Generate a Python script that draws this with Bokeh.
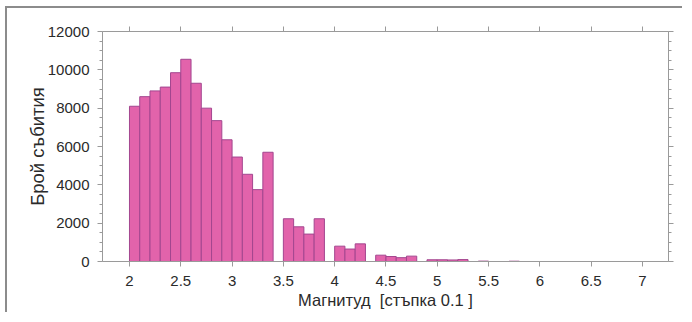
from bokeh.plotting import figure
from bokeh.models import (LinearAxis, SingleIntervalTicker, NumeralTickFormatter,
                          Range1d, ColumnDataSource)
from bokeh.embed import file_html
from bokeh.resources import INLINE

# Magnitude bins (left edges, step 0.1) and event counts
magnitudes = [2.0, 2.1, 2.2, 2.3, 2.4, 2.5, 2.6, 2.7, 2.8, 2.9,
              3.0, 3.1, 3.2, 3.3, 3.4, 3.5, 3.6, 3.7, 3.8, 3.9,
              4.0, 4.1, 4.2, 4.3, 4.4, 4.5, 4.6, 4.7, 4.8, 4.9,
              5.0, 5.1, 5.2, 5.3, 5.4, 5.5, 5.6, 5.7]
counts = [8100, 8600, 8900, 9100, 9850, 10550, 9300, 8000, 7350, 6350,
          5450, 4550, 3750, 5700, 0, 2230, 1810, 1430, 2230, 0,
          800, 650, 920, 0, 330, 260, 200, 280, 0, 90,
          90, 80, 100, 0, 20, 0, 0, 15]
bin_width = 0.1

x_label = "Магнитуд \u00a0[стъпка 0.1 ]"
y_label = "Брой събития"

FONT = "Liberation Sans"
TXT = "#2a2a2a"
AXC = "#9a9a9a"

left = [m for m, c in zip(magnitudes, counts) if c > 0]
right = [m + bin_width for m, c in zip(magnitudes, counts) if c > 0]
top = [c for c in counts if c > 0]
src = ColumnDataSource(dict(left=left, right=right, top=top, bottom=[0] * len(top)))

p = figure(width=677, height=306, output_backend="svg", toolbar_location=None,
           x_range=Range1d(1.737, 7.254), y_range=Range1d(0, 12000),
           min_border_left=95, min_border_right=16, min_border_top=23, min_border_bottom=53,
           x_axis_type=None, y_axis_type=None,
           styles={"border-top": "2px solid #8c8c8c", "border-left": "2px solid #8c8c8c",
                   "margin-left": "5px", "margin-top": "6px"})
p.outline_line_color = None
p.background_fill_color = "white"
p.border_fill_color = "white"

xt = SingleIntervalTicker(interval=0.5, num_minor_ticks=0)
yt = SingleIntervalTicker(interval=2000, num_minor_ticks=4)

def style_axis(ax, labels=True):
    ax.axis_line_color = AXC
    ax.major_tick_line_color = AXC
    ax.minor_tick_line_color = AXC
    ax.major_tick_out = 5
    ax.major_tick_in = 0
    ax.minor_tick_out = 3
    ax.minor_tick_in = 0
    ax.major_label_text_font = FONT
    ax.major_label_text_font_size = "15px"
    ax.major_label_text_color = TXT
    ax.axis_label_text_font = FONT
    ax.axis_label_text_font_style = "normal"
    ax.axis_label_text_color = TXT
    if not labels:
        ax.major_label_text_alpha = 0
        ax.major_label_text_font_size = "0px"

xb = LinearAxis(ticker=xt, formatter=NumeralTickFormatter(format="0.[0]"), axis_label=x_label)
style_axis(xb)
xb.axis_label_text_font_size = "16.5px"
xb.major_label_standoff = 9
xb.axis_label_standoff = 2
p.add_layout(xb, "below")

xa = LinearAxis(ticker=xt, formatter=NumeralTickFormatter(format="0.[0]"))
style_axis(xa, labels=False)
p.add_layout(xa, "above")

yl = LinearAxis(ticker=yt, formatter=NumeralTickFormatter(format="0"), axis_label=y_label)
style_axis(yl)
yl.axis_label_text_font_size = "18.5px"
yl.major_label_standoff = 8
yl.axis_label_standoff = -3
p.add_layout(yl, "left")

yr = LinearAxis(ticker=yt, formatter=NumeralTickFormatter(format="0"))
style_axis(yr, labels=False)
p.add_layout(yr, "right")

p.xgrid.ticker = xt
p.ygrid.ticker = yt
p.grid.grid_line_color = "#ebebeb"
p.grid.grid_line_width = 1

p.quad(left="left", right="right", top="top", bottom="bottom", source=src,
       fill_color="#e263ab", line_color="#a3468f", line_width=1)

open("out.html", "w").write(file_html(p, INLINE))
